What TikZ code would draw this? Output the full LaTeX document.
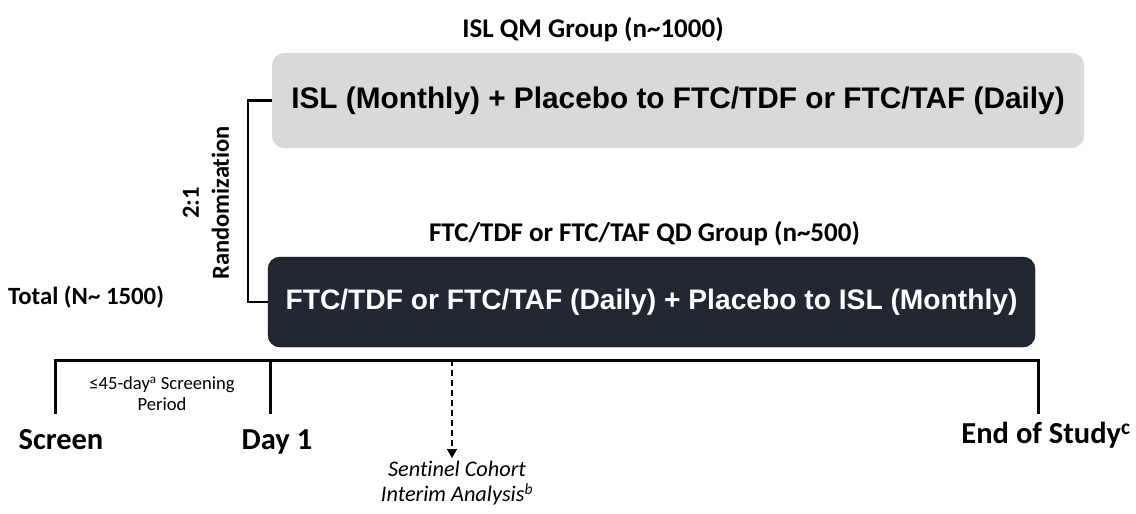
\documentclass[tikz,border=0pt]{standalone}
\usepackage{fontspec}
\setmainfont[Ligatures=CommonOff]{Carlito}
\newfontfamily\boxfont{Liberation Sans}
\usetikzlibrary{arrows.meta}
\definecolor{boxgray}{RGB}{217,217,217}
\definecolor{boxdark}{RGB}{34,40,51}
\tikzset{
  heading/.style={font=\fontsize{27}{32}\selectfont\bfseries, inner sep=0pt},
  label/.style={font=\fontsize{30.5}{34}\selectfont\bfseries, inner sep=0pt},
  armbox/.style={rounded corners=12pt, inner sep=0pt},
  tline/.style={line width=3pt},
}
\begin{document}
\begin{tikzpicture}[x=1pt,y=-1pt]
\useasboundingbox (0,0) rectangle (1136,514);
% headings
\node[heading] (h1) at (593,30) {ISL QM Group (n\textasciitilde1000)};
\node[heading] (h2) at (644.5,234) {FTC/TDF or FTC/TAF QD Group (n\textasciitilde500)};
% arm boxes
\node[armbox, fill=boxgray, minimum width=812pt, minimum height=95pt,
      font=\boxfont\fontsize{29.8}{34}\selectfont\bfseries] (gray) at (678,100.5)
  {ISL (Monthly) + Placebo to FTC/TDF or FTC/TAF (Daily)};
\node[armbox, fill=boxdark, draw=black, thin, text=white, minimum width=767pt, minimum height=90pt,
      font=\boxfont\fontsize{28.2}{34}\selectfont\bfseries] (dark) at (651.5,302)
  {FTC/TDF or FTC/TAF (Daily) + Placebo to ISL (Monthly)};
% randomization bracket
\draw[line width=2.5pt] (gray.west) -- ++(-24,0) |- (dark.west);
\node[font=\fontsize{24.5}{30}\selectfont\bfseries, rotate=90, align=center, inner sep=0pt] (rand) at (206,203)
  {2:1\\Randomization};
\node[font=\fontsize{24.8}{28}\selectfont\bfseries, anchor=west, inner sep=0pt] (total) at (8,297) {Total (N\textasciitilde{} 1500)};
% timeline
\coordinate (s) at (55,360);
\coordinate (d1) at (270,360);
\coordinate (e) at (1038,360);
\coordinate (sc) at (452,360);
\draw[tline] ([yshift=-54pt]s) -- (s) -- (e) -- ([yshift=-54pt]e);
\draw[tline] (d1) -- ([yshift=-54pt]d1);
\node[font=\fontsize{18.6}{21}\selectfont, align=center, inner sep=0pt] (period) at (162,394)
  {≤45-day\textsuperscript{a} Screening\\Period};
\node[label] (screen) at (61,440) {Screen};
\node[label] (day1) at (277,442) {Day 1};
\node[label] (eos) at (1046,435) {End of Study\textsuperscript{c}};
% sentinel
\node[font=\fontsize{22.3}{25}\selectfont\itshape, align=center, inner sep=0pt, anchor=north] (sent) at (457,461)
  {Sentinel Cohort\\Interim Analysis\textsuperscript{b}};
\coordinate (ah) at (452,458);
\draw[line width=1.5pt, dash pattern=on 6pt off 4pt, -{Triangle[width=10pt,length=9pt]}] (sc) -- (ah);
\end{tikzpicture}
\end{document}
